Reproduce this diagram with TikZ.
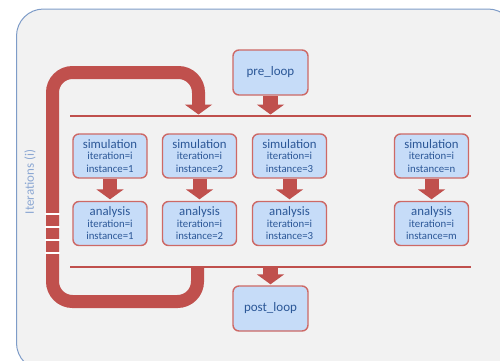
\documentclass[tikz,border=0pt]{standalone}
\usepackage{fontspec}
\setmainfont{Carlito}
\usetikzlibrary{arrows.meta}
\definecolor{loopred}{HTML}{C0504D}
\definecolor{boxedge}{HTML}{CD6966}
\definecolor{boxfill}{HTML}{C6DCF8}
\definecolor{txtblue}{HTML}{2B5797}
\definecolor{frameedge}{HTML}{7E9CC8}
\definecolor{framefill}{HTML}{F2F2F2}
\definecolor{lblblue}{HTML}{8BA7D3}
\tikzset{
  stepbox/.style={draw=boxedge, line width=1.4pt, fill=boxfill, rounded corners=6pt,
    minimum width=74pt, minimum height=44pt, inner sep=0pt, align=center,
    text=txtblue, font=\fontsize{10.8}{12.5}\selectfont},
  bigbox/.style={stepbox, minimum width=75pt, minimum height=45pt, font=\fontsize{13}{14}\selectfont},
  fatarrow/.style={draw=loopred, line width=14pt, -{Triangle[width=27pt,length=10pt]}, loopred},
  barline/.style={draw=loopred, line width=2pt},
}
\newcommand{\ttl}[1]{{\fontsize{12.8}{12}\selectfont #1}\\[-1pt]}
\begin{document}
\begin{tikzpicture}[x=1pt,y=-1pt]
\useasboundingbox (0,0) rectangle (500,360);
% frame
\draw[frameedge, fill=framefill, line width=1pt, rounded corners=27pt] (16.5,9) rectangle (515,370);
% label
\node[rotate=90, text=lblblue, font=\fontsize{13}{14}\selectfont] (lbl) at (30,182) {Iterations (i)};
% bars
\coordinate (tl) at (70,116); \coordinate (tr) at (471,116);
\coordinate (bl) at (70,267); \coordinate (br) at (471,267);
\draw[barline] (tl) -- (tr);
\draw[barline] (bl) -- (br);
% boxes
\node[bigbox] (pre) at (270.5,72.5) {pre\_loop};
\node[bigbox] (post) at (270.5,308.5) {post\_loop};
\node[stepbox] (s1) at (110,156) {\ttl{simulation}iteration=i\\instance=1};
\node[stepbox] (s2) at (199.5,156) {\ttl{simulation}iteration=i\\instance=2};
\node[stepbox] (s3) at (289.5,156) {\ttl{simulation}iteration=i\\instance=3};
\node[stepbox] (s4) at (431.5,156) {\ttl{simulation}iteration=i\\instance=n};
\node[stepbox] (a1) at (110,223.5) {\ttl{analysis}iteration=i\\instance=1};
\node[stepbox] (a2) at (199.5,223.5) {\ttl{analysis}iteration=i\\instance=2};
\node[stepbox] (a3) at (289.5,223.5) {\ttl{analysis}iteration=i\\instance=3};
\node[stepbox] (a4) at (431.5,223.5) {\ttl{analysis}iteration=i\\instance=m};
% arrows
\foreach \i in {1,2,3,4} \draw[fatarrow, shorten >=1.5pt] (s\i.south) -- (a\i.north);
\coordinate (pretip) at (270.5,114.5);
\draw[fatarrow, line width=15pt, shorten <=0.5pt] (pre.south) -- (pretip);
\coordinate (poststart) at (270.5,267);
\draw[fatarrow, line width=15pt, shorten >=1pt] (poststart) -- (post.north);
% loop
\coordinate (lstart) at (197.5,267);
\coordinate (ltip) at (198.5,114.5);
\draw[draw=loopred, line width=13pt, rounded corners=20pt, -{Triangle[width=27pt,length=10pt]}]
  (lstart) -- (197.5,301.5) -- (52.5,301.5) -- (52.5,72.5) -- (198.5,72.5) -- (ltip);
\foreach \y in {214,227,240,253} \draw[white, line width=1.6pt] (45,\y) -- (60,\y);
\end{tikzpicture}
\end{document}
